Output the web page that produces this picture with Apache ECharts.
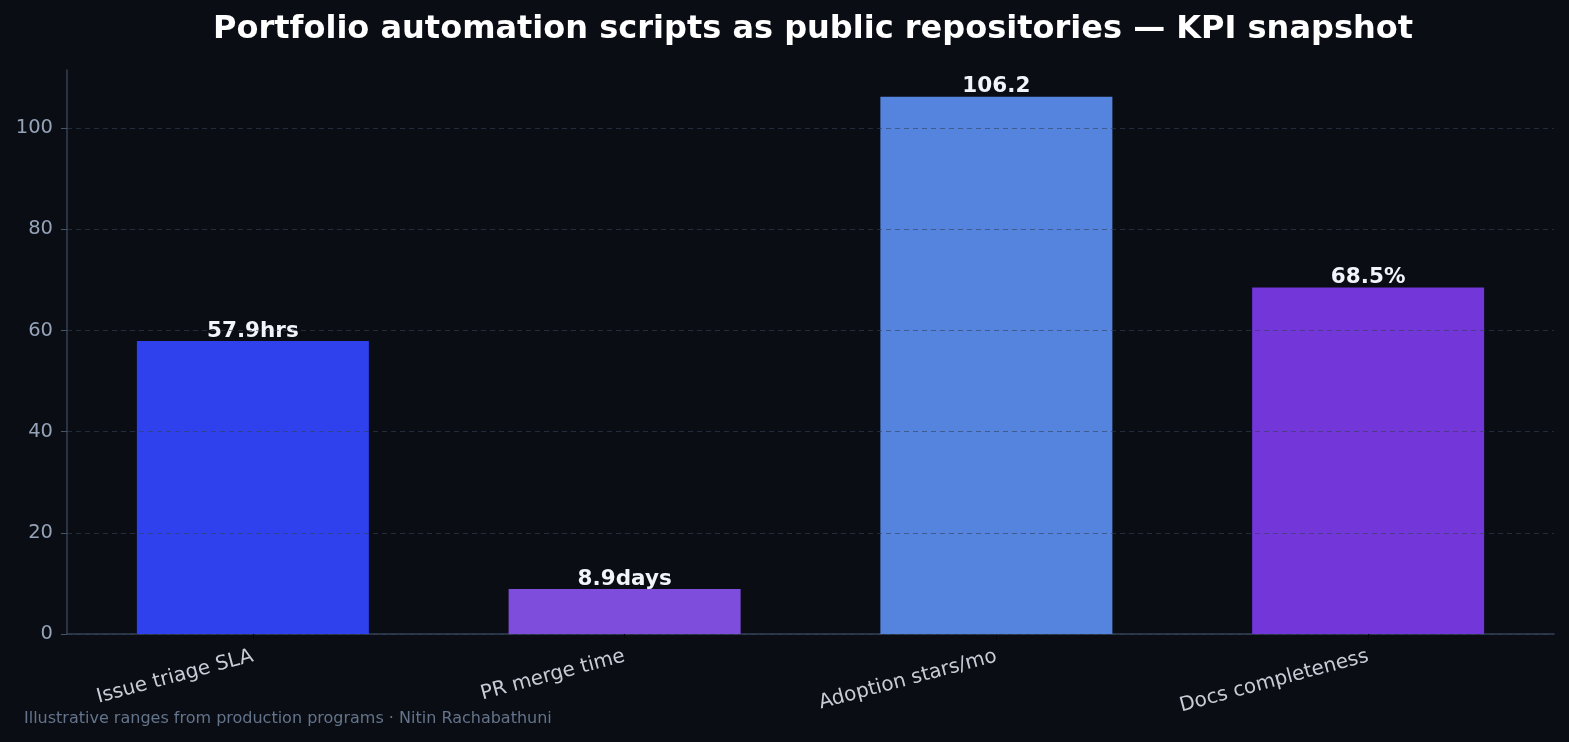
<!DOCTYPE html>
<html>
<head>
<meta charset="utf-8">
<script src="https://cdn.jsdelivr.net/npm/echarts@6/dist/echarts.min.js"></script>
<style>
  html, body { margin: 0; padding: 0; background: #0a0d14; }
  #bar { width: 1569px; height: 742px; }
</style>
</head>
<body>
<div id="bar"></div>
<script>
const categories = ['Issue triage SLA', 'PR merge time', 'Adoption stars/mo', 'Docs completeness'];
const values = [57.9, 8.9, 106.2, 68.5];
const units = ['hrs', 'days', '', '%'];
const barColors = ['#2e41ec', '#7f4ddc', '#5584de', '#7336d9'];
const yTicks = [0, 20, 40, 60, 80, 100];

const myEcharts = echarts.init(document.getElementById('bar'));
myEcharts.setOption({
  backgroundColor: '#0a0d14',
  textStyle: { fontFamily: 'DejaVu Sans' },
  title: {
    text: 'Portfolio automation scripts as public repositories — KPI snapshot',
    left: 808,
    textAlign: 'center',
    top: 9,
    textStyle: { color: '#ffffff', fontSize: 32, fontWeight: 'bold', fontFamily: 'DejaVu Sans' }
  },
  graphic: [{
    type: 'text',
    left: 24,
    top: 711,
    style: {
      text: 'Illustrative ranges from production programs · Nitin Rachabathuni',
      fill: '#64748b',
      fontSize: 16,
      fontFamily: 'DejaVu Sans'
    }
  }],
  grid: { left: 67, right: 15, top: 70, bottom: 108, containLabel: false },
  xAxis: {
    type: 'category',
    data: categories,
    axisLine: { lineStyle: { color: '#334155', width: 1.5 } },
    axisTick: { show: true, alignWithLabel: true, length: 5, lineStyle: { color: '#05070b' } },
    axisLabel: {
      rotate: 15,
      color: '#c8ccd6',
      fontSize: 20,
      margin: 22,
      fontFamily: 'DejaVu Sans'
    }
  },
  yAxis: {
    type: 'value',
    min: 0,
    max: 111.5,
    interval: 20,
    z: 3,
    axisLine: { show: true, lineStyle: { color: '#334155', width: 1.5 } },
    axisTick: { show: true, length: 6, lineStyle: { color: '#475569' }, customValues: yTicks },
    axisLabel: { color: '#94a3b8', fontSize: 19.5, margin: 14, customValues: yTicks, fontFamily: 'DejaVu Sans' },
    splitLine: { show: true, lineStyle: { color: 'rgba(51,65,85,0.6)', type: [5, 4], width: 1.2 } }
  },
  series: [{
    name: 'KPI',
    type: 'bar',
    barWidth: 232,
    z: 2,
    data: values.map((v, i) => ({ value: v, itemStyle: { color: barColors[i] } })),
    label: {
      show: true,
      position: 'top',
      distance: -1,
      color: '#f1f5f9',
      fontSize: 21.5,
      fontWeight: 'bold',
      fontFamily: 'DejaVu Sans',
      formatter: p => p.value + units[p.dataIndex]
    }
  }]
});
</script>
</body>
</html>
